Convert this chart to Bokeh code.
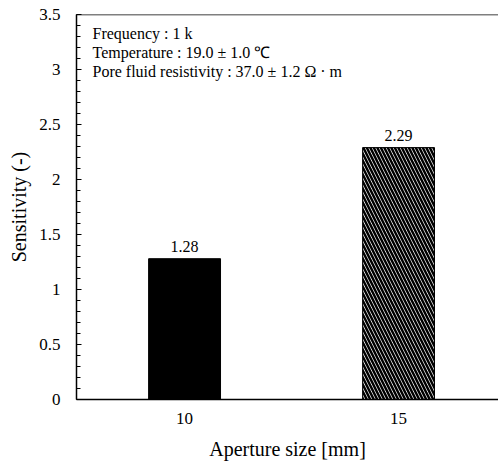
from bokeh.plotting import figure
from bokeh.models import ColumnDataSource, FixedTicker, Label, Range1d, Span
from bokeh.embed import file_html
from bokeh.resources import INLINE

categories = ["10", "15"]
sensitivity = [1.28, 2.29]
bar_labels = ["1.28", "2.29"]
y_ticks = [0, 0.5, 1, 1.5, 2, 2.5, 3, 3.5]
y_tick_labels = ["0", "0.5", "1", "1.5", "2", "2.5", "3", "3.5"]
notes = ["Frequency : 1 k",
         "Temperature : 19.0 \u00b1 1.0 \u2103",
         "Pore fluid resistivity : 37.0 \u00b1 1.2 \u03a9 \u00b7 m"]

FONT = "Liberation Serif"
AXFONT = "Liberation Serif"
xpos = list(range(len(categories)))

p = figure(width=498, height=462, output_backend="svg", toolbar_location=None,
           x_range=Range1d(-0.505, 1.467), y_range=Range1d(0, 3.5),
           min_border_left=76, min_border_right=0, min_border_top=14, min_border_bottom=63)
p.outline_line_color = None
p.xgrid.visible = False
p.ygrid.visible = False
p.background_fill_color = "white"

src1 = ColumnDataSource(dict(x=xpos[:1], top=sensitivity[:1]))
src2 = ColumnDataSource(dict(x=xpos[1:], top=sensitivity[1:]))
p.vbar(x="x", top="top", bottom=0, width=0.336, source=src1,
       fill_color="black", line_color="black")
p.vbar(x="x", top="top", bottom=0, width=0.336, source=src2,
       fill_color="white", line_color="black", line_width=1,
       hatch_pattern="left_diagonal_line", hatch_color="black", hatch_scale=7, hatch_weight=2.5)

lsrc = ColumnDataSource(dict(x=xpos, y=sensitivity, t=bar_labels))
p.text(x="x", y="y", text="t", source=lsrc, text_align="center", text_baseline="bottom",
       y_offset=-7, text_font={"value": FONT}, text_font_size="16px", text_color="black")

for i, s in enumerate(notes):
    p.add_layout(Label(x=16, y=366 - 19 * i, x_units="screen", y_units="screen", text=s,
                       text_font=FONT, text_font_size="16px", text_baseline="middle",
                       text_color="black"))

p.add_layout(Span(location=p.y_range.end, dimension="width", line_color="black", line_width=1.5))

ax = p.yaxis[0]
ax.ticker = FixedTicker(ticks=y_ticks, minor_ticks=[i / 10 for i in range(36)])
ax.major_label_overrides = {t: l for t, l in zip(y_ticks, y_tick_labels)}
ax.major_tick_in = 5
ax.major_tick_out = 0
ax.minor_tick_in = 4
ax.minor_tick_out = 0
ax.major_tick_line_color = "black"
ax.minor_tick_line_color = "black"
ax.axis_line_width = 1.5
ax.axis_line_color = "black"
ax.major_label_text_font = AXFONT
ax.major_label_text_font_size = "17px"
ax.major_label_text_color = "black"
ax.major_label_standoff = 16
ax.axis_label = "Sensitivity (-)"
ax.axis_label_text_font = AXFONT
ax.axis_label_text_font_size = "20px"
ax.axis_label_text_font_style = "normal"
ax.axis_label_text_color = "black"
ax.axis_label_standoff = 6

bx = p.xaxis[0]
bx.ticker = FixedTicker(ticks=xpos)
bx.major_label_overrides = {i: c for i, c in zip(xpos, categories)}
bx.major_tick_in = 0
bx.major_tick_out = 0
bx.minor_tick_line_color = None
bx.axis_line_width = 1.5
bx.axis_line_color = "black"
bx.major_label_text_font = AXFONT
bx.major_label_text_font_size = "17px"
bx.major_label_text_color = "black"
bx.major_label_standoff = 13
bx.axis_label = "Aperture size [mm]"
bx.axis_label_text_font = AXFONT
bx.axis_label_text_font_size = "20px"
bx.axis_label_text_font_style = "normal"
bx.axis_label_text_color = "black"
bx.axis_label_standoff = 11

open("out.html", "w").write(file_html(p, INLINE))
